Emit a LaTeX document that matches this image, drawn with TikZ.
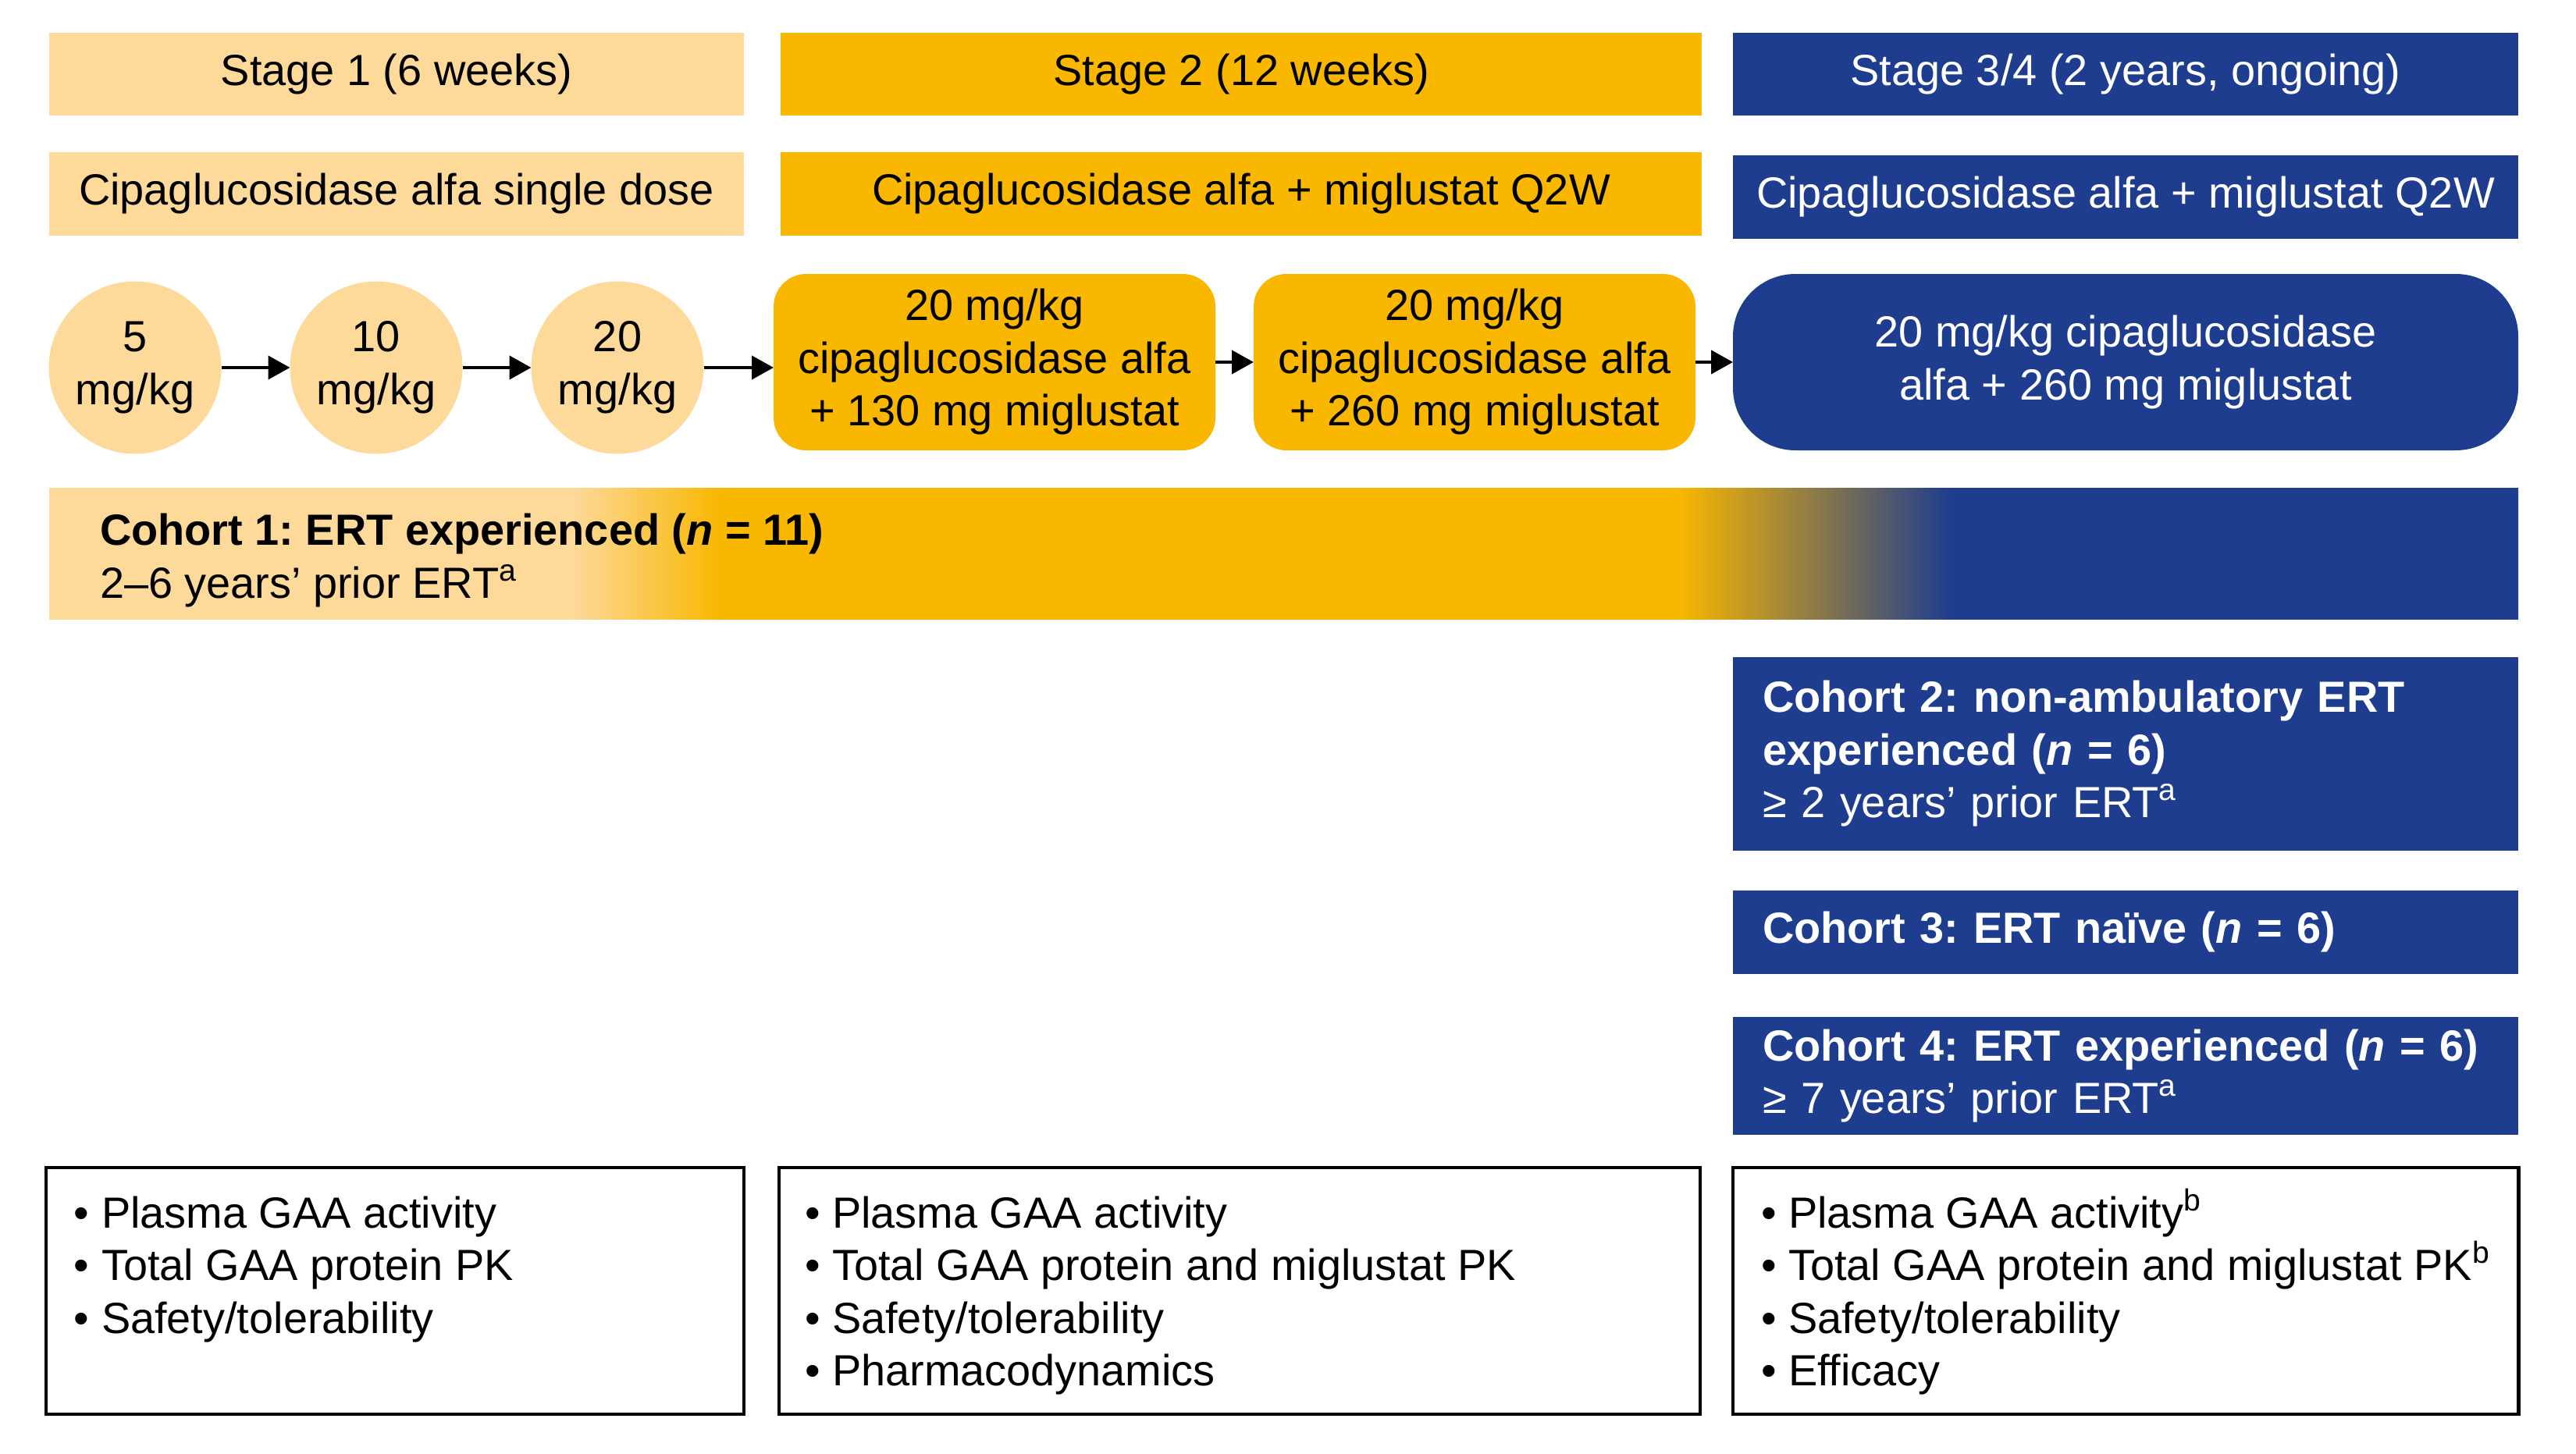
\documentclass[tikz,border=0pt]{standalone}
\usepackage{fontspec}
\setmainfont{Liberation Sans}
\usetikzlibrary{positioning,arrows.meta}
\frenchspacing

\definecolor{stagelight}{RGB}{253,217,154}
\definecolor{stageorange}{RGB}{249,183,0}
\definecolor{stageblue}{RGB}{31,61,143}

% light -> orange -> blue along the cohort 1 bar (path is mapped on 25bp..75bp)
\pgfdeclarehorizontalshading{cohortshade}{100bp}{%
  color(0bp)=(stagelight); color(35.6bp)=(stagelight);
  color(38.6bp)=(stageorange); color(58bp)=(stageorange);
  color(63.5bp)=(stageblue); color(100bp)=(stageblue)}

\newcommand{\fnmark}[1]{\smash{\textsuperscript{#1}}}

\begin{document}
\begin{tikzpicture}[
    x=1cm, y=-1cm,
    every node/.style={font=\fontsize{15.9}{19.2}\selectfont, outer sep=0pt},
    header/.style={rectangle, inner sep=0pt, minimum height=1.06cm},
    dose/.style={circle, fill=stagelight, inner sep=0pt, minimum size=2.21cm, align=center},
    combo/.style={rectangle, rounded corners=0.42cm, fill=stageorange, inner sep=0pt, minimum width=5.66cm, minimum height=2.26cm, align=center},
    cohort/.style={rectangle, fill=stageblue, text=white, inner xsep=0.38cm, inner ysep=0pt, text width=9.3cm, align=left},
    outcome/.style={rectangle, draw=black, line width=1.4pt, inner sep=0pt, minimum height=3.16cm},
    bullets/.style={anchor=north west, inner sep=0pt, align=left},
    dose arrow/.style={-{Triangle[length=0.28cm, width=0.3cm]}, line width=1.2pt}
]
    \useasboundingbox (0,0) rectangle (33,18.62);

    % stage headers
    \node[header, fill=stagelight, minimum width=8.90cm] (s1) at (5.08,0.955) {Stage 1 (6 weeks)};
    \node[header, fill=stageorange, minimum width=11.80cm] (s2) at (15.90,0.955) {Stage 2 (12 weeks)};
    \node[header, fill=stageblue, text=white, minimum width=10.06cm] (s3) at (27.23,0.955) {Stage 3/4 (2 years, ongoing)};

    \node[header, fill=stagelight, minimum width=8.90cm, below=0.47cm of s1] (r1) {Cipaglucosidase alfa single dose};
    \node[header, fill=stageorange, minimum width=11.80cm, below=0.47cm of s2] (r2) {Cipaglucosidase alfa + miglustat Q2W};
    \node[header, fill=stageblue, text=white, minimum width=10.06cm, below=0.51cm of s3] (r3) {Cipaglucosidase alfa + miglustat Q2W};

    % dose escalation
    \foreach \dose [count=\i] in {5,10,20}
        \node[dose] (d\i) at ({1.73+(\i-1)*3.09},4.71) {\dose\\mg/kg};
    \foreach \i [count=\j from 2] in {1,2}
        \draw[dose arrow] (d\i) -- (d\j);

    \node[combo] (c1) at (12.74,4.64) {20 mg/kg\\cipaglucosidase alfa\\+ 130 mg miglustat};
    \node[combo] (c2) at (18.89,4.64) {20 mg/kg\\cipaglucosidase alfa\\+ 260 mg miglustat};
    \node[combo, fill=stageblue, text=white, rounded corners=0.8cm, minimum width=10.06cm] (c3) at (27.23,4.64) {20 mg/kg cipaglucosidase\\alfa + 260 mg miglustat};

    \draw[dose arrow] (d3) -- (d3 -| c1.west);
    \draw[dose arrow] (c1) -- (c2);
    \draw[dose arrow] (c2) -- (c3);

    % cohorts
    \node[rectangle, shade, shading=cohortshade, anchor=north west, minimum width=31.63cm, minimum height=1.68cm] (k1) at (0.63,6.25) {};
    \node[anchor=west, inner sep=0pt, align=left] (k1 text) at ([xshift=0.65cm, yshift=-0.09cm]k1.west)
        {\textbf{Cohort 1: ERT experienced (\textit{n} = 11)}\\2–6 years’ prior ERT\fnmark{a}};
    \node[cohort, anchor=north west, minimum height=2.48cm] (k2) at (22.20,8.42)
        {\textbf{Cohort 2: non-ambulatory ERT}\\\textbf{experienced (\textit{n} = 6)}\\≥ 2 years’ prior ERT\fnmark{a}};
    \node[cohort, minimum height=1.07cm, below=0.51cm of k2] (k3) {\textbf{Cohort 3: ERT naïve (\textit{n} = 6)}};
    \node[cohort, minimum height=1.51cm, below=0.55cm of k3] (k4)
        {\textbf{Cohort 4: ERT experienced (\textit{n} = 6)}\\≥ 7 years’ prior ERT\fnmark{a}};

    % outcomes
    \node[outcome, minimum width=8.94cm] (o1) at (5.06,16.54) {};
    \node[outcome, minimum width=11.80cm] (o2) at (15.88,16.54) {};
    \node[outcome, minimum width=10.06cm] (o3) at (27.23,16.54) {};

    \node[bullets] (b1) at ([xshift=0.36cm, yshift=-0.37cm]o1.north west)
        {• Plasma GAA activity\\• Total GAA protein PK\\• Safety/tolerability};
    \node[bullets] (b2) at ([xshift=0.33cm, yshift=-0.37cm]o2.north west)
        {• Plasma GAA activity\\• Total GAA protein and miglustat PK\\• Safety/tolerability\\• Pharmacodynamics};
    \node[bullets] (b3) at ([xshift=0.36cm, yshift=-0.37cm]o3.north west)
        {• Plasma GAA activity\fnmark{b}\\• Total GAA protein and miglustat PK\fnmark{b}\\• Safety/tolerability\\• Efficacy};

\end{tikzpicture}
\end{document}
